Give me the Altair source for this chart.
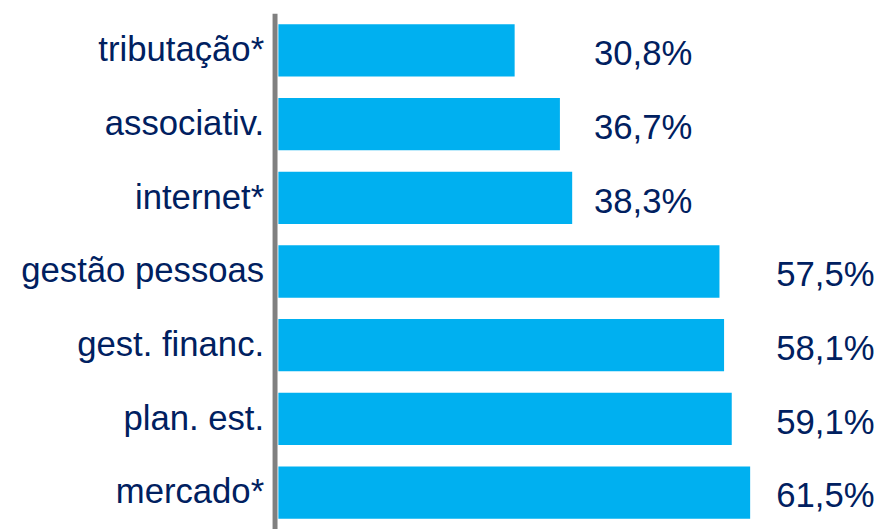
import altair as alt
import pandas as pd

categories = ["tributação*", "associativ.", "internet*", "gestão pessoas",
              "gest. financ.", "plan. est.", "mercado*"]
values = [30.8, 36.7, 38.3, 57.5, 58.1, 59.1, 61.5]
value_labels = ["30,8%", "36,7%", "38,3%", "57,5%", "58,1%", "59,1%", "61,5%"]

df = pd.DataFrame({"cat": categories, "val": values, "lab": value_labels})

FONT = "Liberation Sans, Arial, sans-serif"
FS = 35
NAVY = "#002060"
BLUE = "#00B0F0"

y_enc = alt.Y("cat:N", sort=categories,
              scale=alt.Scale(paddingInner=0.29, paddingOuter=0.148),
              axis=alt.Axis(title=None, labelFont=FONT, labelFontSize=FS,
                            labelColor=NAVY, ticks=False, grid=False,
                            domainColor="#808080", domainWidth=5,
                            labelPadding=11, labelLimit=400))

bars = alt.Chart(df).mark_bar(color=BLUE).encode(
    x=alt.X("val:Q", scale=alt.Scale(domain=[-0.5, 77], nice=False, zero=False),
            axis=None),
    x2=alt.datum(0),
    y=y_enc,
)

txt_small = alt.Chart(df).transform_filter("datum.val < 50").mark_text(
    align="center", baseline="middle", dy=4, font=FONT, fontSize=FS, color=NAVY
).encode(x=alt.value(372), y=alt.Y("cat:N", sort=categories), text="lab:N")

txt_large = alt.Chart(df).transform_filter("datum.val >= 50").mark_text(
    align="center", baseline="middle", dy=4, font=FONT, fontSize=FS, color=NAVY
).encode(x=alt.value(556), y=alt.Y("cat:N", sort=categories), text="lab:N")

chart = alt.layer(bars, txt_small, txt_large).properties(
    width=600, height=521,
    autosize=alt.AutoSizeParams(type="none"),
    padding={"left": 269, "top": 3, "right": 6, "bottom": 0},
).configure_view(stroke=None)

chart.save("out.html", embed_options={"renderer": "svg", "actions": False})
